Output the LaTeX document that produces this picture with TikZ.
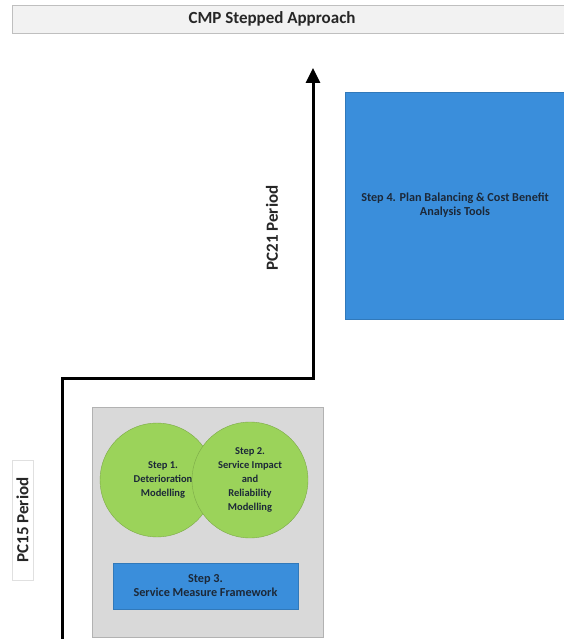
\documentclass[tikz,border=0pt]{standalone}
\usepackage{fontspec}
\setmainfont{Carlito}
\usetikzlibrary{arrows.meta}
\definecolor{stepblue}{HTML}{3A8EDB}
\definecolor{stepgreen}{HTML}{9BD35A}
\definecolor{panelgray}{HTML}{D9D9D9}
\definecolor{txtdark}{HTML}{1C2838}
\begin{document}
\begin{tikzpicture}[
  x=1pt, y=-1pt,
  font=\bfseries,
  titlebar/.style={draw=black!25,fill=black!5,minimum width=554pt,minimum height=28pt},
  titletext/.style={font=\fontsize{17}{20}\selectfont\bfseries,text=black!85},
  period/.style={rotate=90,fill=white,minimum width=120pt,minimum height=21pt,
    inner sep=1pt,font=\fontsize{17}{20}\selectfont\bfseries,text=black!85},
  panel/.style={draw=black!30,fill=panelgray,minimum width=231pt,minimum height=230pt},
  stepcirc/.style={circle,draw=stepgreen!80!black,fill=stepgreen,inner sep=0pt,
    align=center,text=txtdark,font=\fontsize{10.5}{14}\selectfont\bfseries},
  stepbox/.style={draw=stepblue!85!black,fill=stepblue,align=center,text=txtdark,
    font=\fontsize{12.2}{14}\selectfont\bfseries},
  flow/.style={line width=3pt,black,line join=miter,-{Triangle[length=15pt,width=14pt]}}]
\useasboundingbox (0,0) rectangle (563,639);
% heading
\node[titlebar] (title) at (289,19) {};
\node[titletext] (titlelbl) at (272,19) {CMP Stepped Approach};
% PC15 steps
\node[panel] (pc15) at (207.5,522) {};
\node[stepcirc,minimum size=114pt] (step1) at (157,480) {\hspace*{12pt}Step 1.\\\hspace*{12pt}Deterioration\\\hspace*{12pt}Modelling};
\node[stepcirc,minimum size=116pt] (step2) at (250,480) {Step 2.\\Service Impact\\and\\Reliability\\Modelling};
\node[stepbox,minimum width=185pt,minimum height=46pt] (step3) at (205.5,586)
  {Step 3.\\Service Measure Framework};
% PC21 step
\node[stepbox,minimum width=220pt,minimum height=227pt] (step4) at (455,205.5)
  {Step 4. Plan Balancing \& Cost Benefit\\Analysis Tools};
% periods
\node[period,draw=black!12] (per15) at (22.5,520) {PC15 Period};
\node[period,fill=none] (per21) at (272,228) {PC21 Period};
% stepped arrow
\coordinate (start) at (62,642);
\coordinate (tip) at (313,68);
\draw[flow] (start) |- (313,378) -- (tip);
\end{tikzpicture}
\end{document}
